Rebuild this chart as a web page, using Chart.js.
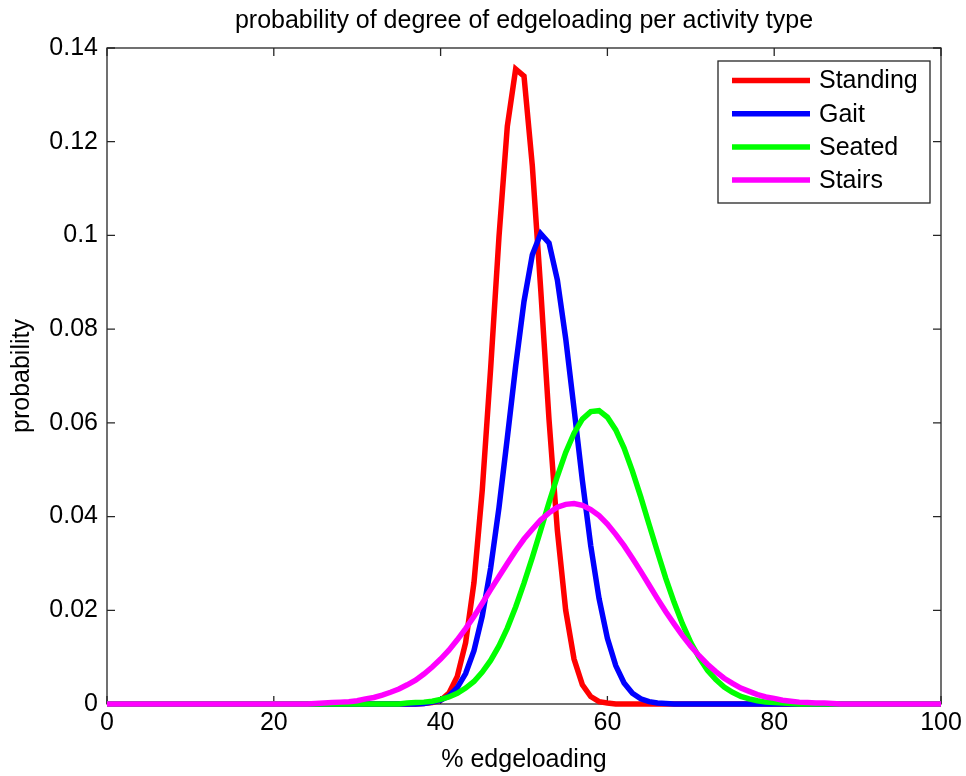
<!DOCTYPE html>
<html>
<head>
<meta charset="utf-8">
<title>probability of degree of edgeloading per activity type</title>
<script src="https://cdn.jsdelivr.net/npm/chart.js@4.4.1/dist/chart.umd.min.js"></script>
<style>
  html, body { margin: 0; padding: 0; background: #fff; }
  #wrap { width: 966px; height: 776px; }
</style>
</head>
<body>
<div id="wrap"><canvas id="myChart" width="966" height="776"></canvas></div>
<script>
'use strict';

// % edgeloading (x axis)
var edgeloading = [
  0, 1, 2, 3, 4, 5, 6, 7, 8, 9,
  10, 11, 12, 13, 14, 15, 16, 17, 18, 19,
  20, 21, 22, 23, 24, 25, 26, 27, 28, 29,
  30, 31, 32, 33, 34, 35, 36, 37, 38, 39,
  40, 41, 42, 43, 44, 45, 46, 47, 48, 49,
  50, 51, 52, 53, 54, 55, 56, 57, 58, 59,
  60, 61, 62, 63, 64, 65, 66, 67, 68, 69,
  70, 71, 72, 73, 74, 75, 76, 77, 78, 79,
  80, 81, 82, 83, 84, 85, 86, 87, 88, 89,
  90, 91, 92, 93, 94, 95, 96, 97, 98, 99,
  100
];

var standing = [
  0, 0, 0, 0, 0, 0, 0, 0, 0, 0,
  0, 0, 0, 0, 0, 0, 0, 0, 0, 0,
  0, 0, 0, 0, 0, 0, 0, 0, 0, 0,
  0, 0, 0, 0, 0, 0, 0, 0, 0.0001, 0.0003,
  0.0008, 0.0023, 0.0059, 0.0131, 0.0259, 0.0457, 0.0716, 0.0997, 0.1233, 0.1355,
  0.1340, 0.1148, 0.0886, 0.0607, 0.0370, 0.0200, 0.0096, 0.0041, 0.0016, 0.0005,
  0.0002, 0, 0, 0, 0, 0, 0, 0, 0, 0,
  0, 0, 0, 0, 0, 0, 0, 0, 0, 0,
  0, 0, 0, 0, 0, 0, 0, 0, 0, 0,
  0, 0, 0, 0, 0, 0, 0, 0, 0, 0,
  0
];

var gait = [
  0, 0, 0, 0, 0, 0, 0, 0, 0, 0,
  0, 0, 0, 0, 0, 0, 0, 0, 0, 0,
  0, 0, 0, 0, 0, 0, 0, 0, 0, 0,
  0, 0, 0, 0, 0, 0, 0, 0, 0.0001, 0.0004,
  0.0008, 0.0017, 0.0035, 0.0065, 0.0114, 0.0188, 0.0290, 0.0419, 0.0568, 0.0721,
  0.0859, 0.0959, 0.1004, 0.0984, 0.0905, 0.0780, 0.0630, 0.0477, 0.0338, 0.0225,
  0.0140, 0.0082, 0.0045, 0.0023, 0.0011, 0.0005, 0.0002, 0.0001, 0, 0,
  0, 0, 0, 0, 0, 0, 0, 0, 0, 0,
  0, 0, 0, 0, 0, 0, 0, 0, 0, 0,
  0, 0, 0, 0, 0, 0, 0, 0, 0, 0,
  0
];

var seated = [
  0, 0, 0, 0, 0, 0, 0, 0, 0, 0,
  0, 0, 0, 0, 0, 0, 0, 0, 0, 0,
  0, 0, 0, 0, 0, 0, 0, 0, 0, 0,
  0, 0, 0, 0, 0, 0, 0.0002, 0.0003, 0.0004, 0.0006,
  0.0010, 0.0015, 0.0023, 0.0034, 0.0048, 0.0068, 0.0093, 0.0124, 0.0162, 0.0207,
  0.0258, 0.0313, 0.0371, 0.0430, 0.0486, 0.0537, 0.0578, 0.0608, 0.0624, 0.0626,
  0.0612, 0.0585, 0.0546, 0.0497, 0.0442, 0.0383, 0.0325, 0.0268, 0.0217, 0.0171,
  0.0131, 0.0099, 0.0072, 0.0052, 0.0036, 0.0025, 0.0016, 0.0011, 0.0007, 0.0004,
  0.0003, 0.0002, 0.0001, 0, 0, 0, 0, 0, 0, 0,
  0, 0, 0, 0, 0, 0, 0, 0, 0, 0,
  0
];

var stairs = [
  0, 0, 0, 0, 0, 0, 0, 0, 0, 0,
  0, 0, 0, 0, 0, 0, 0, 0, 0, 0,
  0, 0, 0, 0, 0, 0.0001, 0.0002, 0.0003, 0.0004, 0.0005,
  0.0007, 0.0011, 0.0014, 0.0019, 0.0025, 0.0032, 0.0041, 0.0051, 0.0064, 0.0079,
  0.0096, 0.0115, 0.0137, 0.0161, 0.0187, 0.0215, 0.0244, 0.0272, 0.0300, 0.0327,
  0.0352, 0.0373, 0.0393, 0.0408, 0.0420, 0.0426, 0.0428, 0.0424, 0.0415, 0.0402,
  0.0384, 0.0362, 0.0338, 0.0311, 0.0283, 0.0254, 0.0225, 0.0197, 0.0171, 0.0146,
  0.0123, 0.0103, 0.0085, 0.0069, 0.0055, 0.0044, 0.0034, 0.0027, 0.0020, 0.0015,
  0.0012, 0.0008, 0.0006, 0.0004, 0.0003, 0.0002, 0.0002, 0.0001, 0, 0,
  0, 0, 0, 0, 0, 0, 0, 0, 0, 0,
  0
];

var labels = ['Standing', 'Gait', 'Seated', 'Stairs'];
var colors = ['#ff0000', '#0000ff', '#00ff00', '#ff00ff'];
var xTicks = [0, 20, 40, 60, 80, 100];
var yTicks = [0, 0.02, 0.04, 0.06, 0.08, 0.1, 0.12, 0.14];

var FONT = '"Liberation Sans", Arial, Helvetica, sans-serif';
var AXIS_COLOR = '#262626';

function points(values) {
  return edgeloading.map(function(x, i) { return { x: x, y: values[i] }; });
}

// MATLAB style box with inward ticks on all four sides
var boxPlugin = {
  id: 'matlabBox',
  beforeDatasetsDraw: function(chart) {
    var ctx = chart.ctx;
    var a = chart.chartArea;
    var xs = chart.scales.x, ys = chart.scales.y;
    var len = 8;
    ctx.save();
    ctx.strokeStyle = AXIS_COLOR;
    ctx.lineWidth = 1.3;
    ctx.strokeRect(a.left, a.top, a.right - a.left, a.bottom - a.top);
    ctx.beginPath();
    xTicks.forEach(function(v) {
      var px = xs.getPixelForValue(v);
      ctx.moveTo(px, a.bottom); ctx.lineTo(px, a.bottom - len);
      ctx.moveTo(px, a.top); ctx.lineTo(px, a.top + len);
    });
    yTicks.forEach(function(v) {
      var py = ys.getPixelForValue(v);
      ctx.moveTo(a.left, py); ctx.lineTo(a.left + len, py);
      ctx.moveTo(a.right, py); ctx.lineTo(a.right - len, py);
    });
    ctx.stroke();
    ctx.restore();
  }
};

// legend box in the upper right corner of the axes
var legendPlugin = {
  id: 'matlabLegend',
  afterDatasetsDraw: function(chart) {
    var ctx = chart.ctx;
    var a = chart.chartArea;
    var w = 212, h = 142;
    var bx = a.right - 11 - w, by = a.top + 13;
    ctx.save();
    ctx.fillStyle = '#fff';
    ctx.fillRect(bx, by, w, h);
    ctx.strokeStyle = AXIS_COLOR;
    ctx.lineWidth = 1.3;
    ctx.strokeRect(bx, by, w, h);
    ctx.font = '25px ' + FONT;
    ctx.textBaseline = 'middle';
    ctx.textAlign = 'left';
    chart.data.datasets.forEach(function(ds, i) {
      var y = by + 19.5 + i * 33.2;
      ctx.strokeStyle = ds.borderColor;
      ctx.lineWidth = 5.5;
      ctx.beginPath();
      ctx.moveTo(bx + 14, y);
      ctx.lineTo(bx + 92, y);
      ctx.stroke();
      ctx.fillStyle = '#000';
      ctx.fillText(ds.label, bx + 101, y + 1);
    });
    ctx.restore();
  }
};

var series = [standing, gait, seated, stairs];
var datasets = series.map(function(s, i) {
  return {
    label: labels[i],
    data: points(s),
    borderColor: colors[i],
    backgroundColor: colors[i],
    borderWidth: 5.5,
    pointRadius: 0,
    fill: false,
    tension: 0,
    clip: false,
    order: series.length - i   // last series drawn on top
  };
});

var ctx = document.getElementById('myChart');
var myChart = new Chart(ctx, {
  type: 'line',
  data: { datasets: datasets },
  options: {
    responsive: false,
    animation: false,
    devicePixelRatio: 1,
    layout: { padding: { left: 0, right: 25, top: 0, bottom: 0 } },
    plugins: {
      legend: { display: false },
      tooltip: { enabled: false },
      title: {
        display: true,
        text: 'probability of degree of edgeloading per activity type',
        color: '#000',
        fullSize: false,
        font: { family: FONT, size: 25, weight: 'normal' },
        padding: { top: 6, bottom: 12 }
      }
    },
    scales: {
      x: {
        type: 'linear',
        min: 0,
        max: 100,
        afterBuildTicks: function(s) { s.ticks = xTicks.map(function(v) { return { value: v }; }); },
        afterFit: function(s) { s.height = 72; },
        grid: { display: false, drawTicks: false },
        border: { display: false },
        ticks: {
          color: '#000',
          padding: 4,
          maxRotation: 0,
          font: { family: FONT, size: 25 }
        },
        title: {
          display: true,
          text: '% edgeloading',
          color: '#000',
          font: { family: FONT, size: 25 },
          padding: { top: 0, bottom: 1 }
        }
      },
      y: {
        min: 0,
        max: 0.14,
        afterBuildTicks: function(s) { s.ticks = yTicks.map(function(v) { return { value: v }; }); },
        afterFit: function(s) { s.width = 107; },
        grid: { display: false, drawTicks: false },
        border: { display: false },
        ticks: {
          color: '#000',
          padding: 9,
          font: { family: FONT, size: 25 },
          callback: function(v) { return String(+v.toFixed(2)); }
        },
        title: {
          display: true,
          text: 'probability',
          color: '#000',
          font: { family: FONT, size: 25 },
          padding: { top: 7, bottom: 0 }
        }
      }
    }
  },
  plugins: [boxPlugin, legendPlugin]
});
</script>
</body>
</html>
